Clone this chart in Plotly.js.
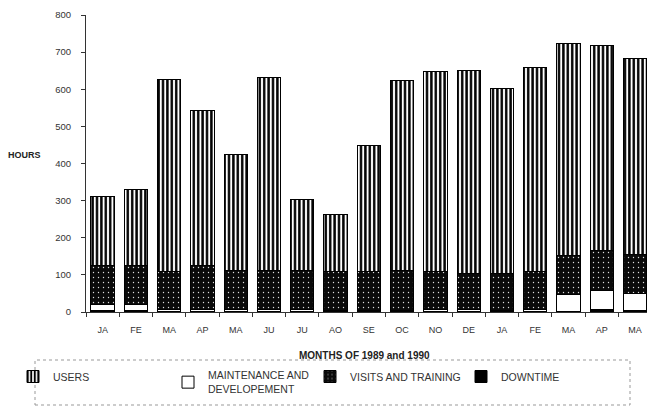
<!DOCTYPE html>
<html>
<head>
<meta charset="utf-8">
<script src="https://cdn.plot.ly/plotly-3.0.1.min.js"></script>
<style>html,body{margin:0;padding:0;background:#fff;overflow:hidden}#chart{width:647px;height:406px}</style>
</head>
<body>
<div id="chart"></div>
<script>
// Months (1989-1990) and hours per category
var categories = ['JA89','FE89','MA89','AP89','MA89b','JU89','JU89b','AO89','SE89','OC89','NO89','DE89','JA90','FE90','MA90','AP90','MA90b'];
var tickLabels = ['JA','FE','MA','AP','MA','JU','JU','AO','SE','OC','NO','DE','JA','FE','MA','AP','MA'];
var downtime    = [3, 3, 2, 2, 2, 2, 2, 2, 2, 2, 2, 2, 2, 2, 2, 7, 4];
var maintenance = [17, 17, 4, 6, 6, 4, 4, 3, 3, 3, 4, 4, 3, 4, 46, 50, 46];
var visits      = [106, 106, 104, 118, 105, 106, 107, 104, 103, 107, 104, 99, 100, 102, 105, 108, 106];
var users       = [185, 205, 515, 417, 311, 519, 191, 154, 341, 511, 539, 546, 496, 550, 570, 552, 528];

var FONT = 'Liberation Sans, Arial, sans-serif';
var W = 647, H = 406, L = 86, R = 0, T = 15, B = 94;
var PW = W - L - R, PH = H - T - B;
function px2x(p){ return (p - L) / PW; }
function py2y(p){ return (T + PH - p) / PH; }

var outline = {color: '#000', width: 1};
var traces = [
  {type:'bar', name:'DOWNTIME', x:categories, y:downtime, legend:'legend4',
   marker:{color:'#000', line:outline}},
  {type:'bar', name:'MAINTENANCE AND<br>DEVELOPEMENT', x:categories, y:maintenance, legend:'legend2',
   marker:{color:'#fff', line:outline}},
  {type:'bar', name:'VISITS AND TRAINING', x:categories, y:visits, legend:'legend3',
   marker:{color:'#0a0a0a', line:outline, pattern:{shape:'.', bgcolor:'#0a0a0a', fgcolor:'#ddd', size:5, solidity:0.06}}},
  {type:'bar', name:'USERS', x:categories, y:users, legend:'legend',
   marker:{color:'#fff', line:outline, pattern:{shape:'|', bgcolor:'#fff', fgcolor:'#000', size:4.4, solidity:0.55}}}
];

function leg(textX){
  return {x: px2x(textX + 3 - 40), y: py2y(362), xanchor:'left', yanchor:'top',
    orientation:'v', bgcolor:'rgba(0,0,0,0)', borderwidth:0, tracegroupgap:0,
    font:{family:FONT, size:10.5, color:'#333'}, itemwidth:30};
}

var layout = {
  width: W, height: H,
  margin: {l:L, r:R, t:T, b:B, autoexpand:false},
  paper_bgcolor:'#fff', plot_bgcolor:'#fff',
  barmode:'stack', bargap:0.3,
  showlegend:true,
  legend: leg(50), legend2: leg(205), legend3: leg(347), legend4: leg(498),
  xaxis: {type:'category', range:[-0.5, 16.36], tickvals:categories, ticktext:tickLabels,
    tickson:'boundaries', ticks:'outside', ticklen:4, tickcolor:'#333',
    showline:true, linecolor:'#333', linewidth:1, showgrid:false, zeroline:false,
    ticklabelstandoff:9, tickfont:{family:FONT, size:9, color:'#333'}},
  yaxis: {range:[0,800], dtick:100, ticks:'outside', ticklen:4, tickcolor:'#333',
    showline:true, linecolor:'#333', linewidth:1, showgrid:false, zeroline:false,
    ticklabelstandoff:8, tickfont:{family:FONT, size:9.5, color:'#333'}},
  annotations: [
    {text:'<b>HOURS</b>', xref:'paper', yref:'paper', x:px2x(6), y:py2y(155), xanchor:'left', yanchor:'middle',
     showarrow:false, font:{family:FONT, size:9, color:'#222'}},
    {text:'<b>MONTHS OF 1989 and 1990</b>', xref:'paper', yref:'paper', x:px2x(364), y:py2y(355), xanchor:'center', yanchor:'middle',
     showarrow:false, font:{family:FONT, size:10, color:'#222'}}
  ],
  shapes: [
    {type:'rect', xref:'paper', yref:'paper', x0:px2x(35), x1:px2x(630), y0:py2y(405), y1:py2y(360),
     line:{color:'#999', width:1, dash:'dot'}, fillcolor:'rgba(0,0,0,0)'}
  ]
};

Plotly.newPlot('chart', traces, layout, {displayModeBar:false, staticPlot:true});
</script>
</body>
</html>
